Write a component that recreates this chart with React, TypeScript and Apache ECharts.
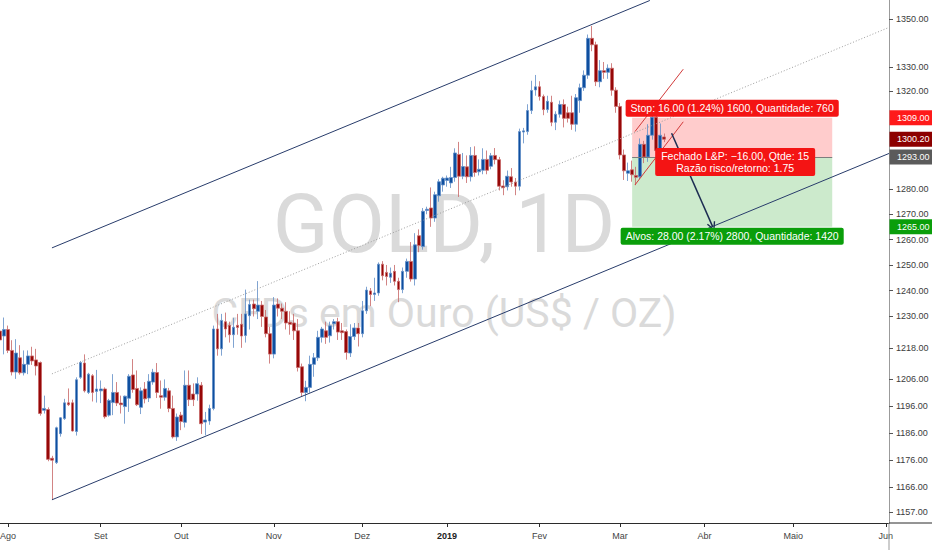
import React, { useEffect, useRef } from "react";
import * as echarts from "echarts";

// Ouro diário, de 30/07/2018 a 18/03/2019: [abertura, fechamento, mínima, máxima]
const candles: number[][] = [
  [1224.4, 1221.0, 1219.0, 1227.0], [1222.5, 1225.0, 1215.5, 1229.6], [1225.0, 1217.0, 1216.0, 1226.5],
  [1217.0, 1208.8, 1207.5, 1220.9], [1208.8, 1216.0, 1206.2, 1221.3], [1214.2, 1208.5, 1207.8, 1219.0],
  [1208.5, 1211.7, 1207.5, 1217.0], [1211.7, 1214.9, 1208.0, 1217.0], [1214.9, 1213.0, 1211.5, 1218.4],
  [1213.4, 1211.1, 1207.5, 1217.6], [1212.4, 1193.2, 1192.4, 1212.8], [1194.4, 1195.1, 1193.2, 1199.9],
  [1194.7, 1176.2, 1175.5, 1195.5], [1176.6, 1175.9, 1161.4, 1177.5], [1175.0, 1187.9, 1174.5, 1188.3],
  [1185.7, 1191.6, 1184.6, 1191.9], [1191.3, 1197.2, 1190.8, 1198.7], [1197.2, 1196.5, 1196.0, 1202.6],
  [1197.2, 1186.7, 1186.5, 1198.4], [1186.5, 1205.9, 1185.0, 1206.8], [1206.8, 1212.4, 1206.2, 1213.0],
  [1212.2, 1201.7, 1201.1, 1215.5], [1201.1, 1208.0, 1200.5, 1208.5], [1207.4, 1201.1, 1197.7, 1208.0],
  [1201.5, 1202.4, 1197.3, 1209.6], [1201.7, 1202.4, 1197.1, 1205.6], [1202.4, 1192.0, 1191.3, 1203.0],
  [1192.6, 1198.1, 1192.0, 1198.7], [1197.3, 1201.1, 1192.6, 1208.0], [1201.1, 1197.1, 1196.0, 1205.0],
  [1197.1, 1196.5, 1193.2, 1199.9], [1195.8, 1199.7, 1189.4, 1199.9], [1198.9, 1207.2, 1193.8, 1208.0],
  [1207.7, 1202.2, 1201.0, 1213.7], [1202.6, 1196.5, 1196.0, 1209.4], [1195.5, 1201.7, 1193.0, 1203.0],
  [1202.4, 1198.7, 1197.0, 1205.0], [1199.0, 1205.3, 1197.5, 1208.0], [1205.0, 1208.7, 1204.0, 1210.0],
  [1208.6, 1201.1, 1199.0, 1212.2], [1199.9, 1199.3, 1195.0, 1205.6], [1199.3, 1202.6, 1198.0, 1206.0],
  [1201.7, 1195.1, 1193.7, 1202.8], [1195.1, 1184.5, 1183.9, 1199.9], [1184.5, 1191.9, 1183.0, 1193.2],
  [1192.6, 1190.2, 1187.0, 1193.8], [1189.9, 1203.8, 1188.0, 1209.4], [1203.8, 1198.4, 1196.0, 1209.4],
  [1200.5, 1198.4, 1196.0, 1204.5], [1200.5, 1204.4, 1198.0, 1206.8], [1203.8, 1189.4, 1185.6, 1205.0],
  [1190.0, 1190.8, 1185.1, 1193.8], [1190.4, 1195.1, 1189.0, 1196.5], [1195.1, 1225.2, 1194.4, 1226.5],
  [1225.2, 1217.6, 1215.0, 1231.0], [1217.6, 1228.5, 1215.0, 1231.0], [1228.0, 1225.2, 1222.0, 1231.5],
  [1226.6, 1223.0, 1220.0, 1228.0], [1223.0, 1225.9, 1218.0, 1229.5], [1226.6, 1225.8, 1223.0, 1231.0],
  [1227.0, 1222.5, 1218.0, 1231.0], [1222.7, 1231.0, 1220.0, 1240.4], [1230.3, 1234.6, 1225.0, 1236.5],
  [1234.8, 1233.0, 1230.0, 1236.5], [1232.0, 1234.4, 1229.0, 1243.7], [1234.4, 1230.0, 1226.0, 1236.0],
  [1229.8, 1223.4, 1222.0, 1232.5], [1223.4, 1215.6, 1212.0, 1226.0], [1215.6, 1234.4, 1214.0, 1237.5],
  [1234.8, 1233.2, 1230.0, 1237.0], [1233.2, 1232.0, 1229.0, 1235.0], [1232.0, 1227.5, 1225.0, 1235.5],
  [1227.8, 1227.0, 1223.0, 1232.0], [1227.5, 1224.5, 1221.0, 1231.0], [1224.5, 1210.5, 1209.0, 1229.0],
  [1210.8, 1201.1, 1199.5, 1212.0], [1201.1, 1203.0, 1197.8, 1205.5], [1203.0, 1211.7, 1201.0, 1215.0],
  [1211.7, 1214.2, 1207.0, 1216.0], [1214.2, 1222.0, 1213.0, 1224.5], [1222.0, 1225.2, 1220.0, 1226.0],
  [1224.5, 1222.0, 1219.5, 1228.0], [1222.6, 1226.4, 1220.0, 1228.0], [1227.2, 1228.0, 1225.0, 1229.0],
  [1228.0, 1224.0, 1221.0, 1229.5], [1224.5, 1223.8, 1221.0, 1227.5], [1224.2, 1216.2, 1213.5, 1225.0],
  [1216.0, 1222.3, 1214.5, 1227.0], [1222.3, 1225.6, 1221.0, 1227.5], [1225.6, 1223.4, 1218.5, 1227.5],
  [1223.4, 1232.2, 1222.0, 1236.0], [1232.2, 1240.2, 1231.0, 1241.5], [1239.9, 1238.5, 1234.0, 1241.0],
  [1238.5, 1239.1, 1236.0, 1245.0], [1239.1, 1250.3, 1238.0, 1251.0], [1250.3, 1245.8, 1244.0, 1251.5],
  [1247.1, 1245.5, 1242.0, 1250.0], [1245.2, 1246.8, 1243.0, 1249.0], [1247.5, 1243.6, 1242.0, 1250.0],
  [1243.6, 1240.4, 1235.5, 1245.0], [1240.4, 1247.5, 1239.0, 1249.0], [1247.5, 1251.4, 1245.0, 1252.5],
  [1251.4, 1244.5, 1243.5, 1259.0], [1244.5, 1257.9, 1242.0, 1262.5], [1261.5, 1257.6, 1255.0, 1264.0],
  [1257.2, 1271.2, 1256.0, 1272.5], [1271.5, 1272.0, 1270.0, 1273.0], [1272.5, 1268.5, 1265.0, 1280.7],
  [1268.5, 1277.8, 1267.0, 1279.0], [1277.4, 1283.0, 1275.0, 1284.0], [1281.7, 1284.4, 1279.0, 1285.0],
  [1283.5, 1284.5, 1281.0, 1285.5], [1282.5, 1284.7, 1280.5, 1289.0], [1284.7, 1294.6, 1283.0, 1296.5],
  [1294.0, 1285.2, 1276.9, 1299.1], [1285.2, 1289.1, 1284.0, 1294.6], [1289.0, 1285.0, 1282.5, 1293.6],
  [1285.0, 1293.6, 1283.1, 1297.0], [1293.6, 1286.7, 1285.0, 1297.3], [1287.0, 1288.0, 1285.5, 1292.0],
  [1287.6, 1292.0, 1286.0, 1296.5], [1292.0, 1287.6, 1286.0, 1295.6], [1289.2, 1293.5, 1288.0, 1294.6],
  [1293.6, 1291.9, 1290.0, 1296.6], [1291.9, 1281.2, 1279.5, 1293.0], [1281.3, 1280.6, 1277.6, 1283.6],
  [1281.0, 1285.2, 1279.5, 1287.5], [1285.0, 1282.9, 1281.0, 1288.5], [1282.9, 1281.2, 1277.6, 1284.5],
  [1281.2, 1303.3, 1279.5, 1304.5], [1303.1, 1303.6, 1298.5, 1304.8], [1303.3, 1311.9, 1302.0, 1314.5],
  [1311.9, 1320.2, 1310.5, 1324.2], [1320.4, 1321.7, 1318.0, 1326.6], [1321.7, 1317.7, 1316.0, 1324.0],
  [1317.7, 1312.3, 1310.0, 1318.5], [1312.3, 1315.7, 1311.0, 1318.0], [1315.3, 1307.1, 1305.5, 1318.0],
  [1307.1, 1310.4, 1303.9, 1311.6], [1310.4, 1314.4, 1309.0, 1316.0], [1314.4, 1308.7, 1305.0, 1316.5],
  [1311.0, 1308.7, 1307.0, 1313.5], [1311.0, 1306.3, 1304.0, 1318.0], [1306.3, 1317.2, 1303.3, 1318.7],
  [1316.0, 1321.3, 1311.0, 1323.0], [1321.3, 1326.5, 1320.0, 1328.5], [1326.5, 1341.9, 1325.0, 1343.5],
  [1341.9, 1339.2, 1336.5, 1347.1], [1339.2, 1323.8, 1322.0, 1340.5], [1323.8, 1328.4, 1321.5, 1332.8],
  [1328.4, 1327.7, 1325.0, 1332.0], [1327.7, 1329.4, 1325.0, 1331.0], [1329.4, 1320.3, 1318.0, 1331.5],
  [1320.3, 1313.6, 1311.0, 1321.5], [1313.6, 1293.8, 1292.0, 1315.0], [1293.8, 1287.4, 1283.7, 1296.0],
  [1286.4, 1287.4, 1283.3, 1290.7], [1287.8, 1285.8, 1283.0, 1291.5], [1285.5, 1284.8, 1281.6, 1289.0],
  [1285.0, 1298.1, 1284.0, 1300.5], [1298.1, 1293.0, 1290.5, 1299.5], [1293.0, 1301.8, 1291.0, 1306.3],
  [1301.8, 1309.2, 1300.0, 1311.5], [1309.2, 1295.6, 1294.0, 1310.5], [1295.6, 1301.8, 1293.5, 1306.6],
  [1301.1, 1300.2, 1299.0, 1302.5],
];

// dias úteis do eixo, a partir de 30/07/2018 (com espaço livre até junho)
const SLOT_COUNT = 221;
const X_MAX = 220.8;
const Y_MIN = 1153.0;
const Y_MAX = 1358.1;

const monthNames = ["Jan", "Fev", "Mar", "Abr", "Maio", "Jun", "Jul", "Ago", "Set", "Out", "Nov", "Dez"];
const priceTicks = [1157, 1166, 1176, 1186, 1196, 1206, 1218, 1230, 1240, 1250, 1260, 1270, 1280, 1320, 1330, 1350];
const priceMarks = [1309, 1300.2, 1293, 1265];

// desenhos: [índice do dia, preço]
const upperChannel = [[12.9, 1256.7], [161.4, 1357.9]];
const lowerChannel = [[12.9, 1161.4], [220.8, 1294.4]];
const midChannel = [[12.9, 1208.1], [220.8, 1346.5]];
const redUpper = [[157.7, 1303.3], [169.7, 1329.0]];
const redLower = [[157.7, 1281.7], [169.7, 1307.3]];
const arrowLine = [[166.8, 1302.6], [177.0, 1265.1]];
const position = { from: 157, to: 206.7, entry: 1293, stop: 1309, target: 1265 };

const stopText = "Stop: 16.00 (1.24%) 1600, Quantidade: 760";
const closedText = "Fechado L&P: \u221216.00, Qtde: 15\nRazão risco/retorno: 1.75";
const targetText = "Alvos: 28.00 (2.17%) 2800, Quantidade: 1420";

const FONT = "'Liberation Sans', Arial, sans-serif";
const markColors: Record<string, string> = {
  "1309": "#ff1a1a",
  "1300.2": "#8c0000",
  "1293": "#5b5b5b",
  "1265": "#0a9e0a",
};

function buildSlots() {
  const out: Date[] = [];
  const d = new Date(Date.UTC(2018, 6, 30));
  while (out.length < SLOT_COUNT) {
    const wd = d.getUTCDay();
    if (wd !== 0 && wd !== 6) out.push(new Date(d.getTime()));
    d.setUTCDate(d.getUTCDate() + 1);
  }
  return out;
}

const ln = Math.log;
const seg = (pts: number[][], lineStyle: any, endSymbol: string = "none") => [
  { coord: [pts[0][0], ln(pts[0][1])], symbol: "none", lineStyle: { type: "solid", ...lineStyle } },
  { coord: [pts[1][0], ln(pts[1][1])], symbol: endSymbol },
];

const App = () => {
  const chartRef = useRef<HTMLDivElement>(null);

  useEffect(() => {
    document.body.style.margin = "0";
    const dom = chartRef.current;
    if (!dom) return;
    const chart = echarts.init(dom, null, { renderer: "svg" });

    const slots = buildSlots();
    const monthStarts: number[] = [];
    const monthLabel: Record<number, string> = {};
    slots.forEach((d, i) => {
      if (i > 0 && d.getUTCMonth() !== slots[i - 1].getUTCMonth()) {
        monthStarts.push(i);
        const m = d.getUTCMonth();
        monthLabel[i] = m === 0 ? "{y|" + d.getUTCFullYear() + "}" : monthNames[m];
      }
    });

    const navy = { color: "#283c6b", width: 1 };
    const chevron = "path://M5,0L10,10L8.6,10.7L5,3.3L1.4,10.7L0,10Z";

    const option: any = {
      animation: false,
      backgroundColor: "#ffffff",
      grid: { left: 0, right: 43, top: 0, bottom: 27, containLabel: false, outerBoundsMode: "none" },
      xAxis: {
        type: "value",
        min: 0,
        max: X_MAX,
        axisLine: { onZero: false, lineStyle: { color: "#2b2b2b", width: 1 } },
        axisTick: { show: true, customValues: monthStarts, length: 4, lineStyle: { color: "#2b2b2b" } },
        axisLabel: {
          customValues: monthStarts,
          formatter: (v: number) => monthLabel[Math.round(v)] || "",
          color: "#444",
          fontSize: 9,
          fontFamily: FONT,
          margin: 8,
          rich: { y: { fontWeight: "bold", fontSize: 9, color: "#222", fontFamily: FONT } },
        },
        splitLine: { show: false },
      },
      yAxis: {
        type: "value",
        position: "right",
        min: ln(Y_MIN),
        max: ln(Y_MAX),
        axisLine: { show: true, onZero: false, lineStyle: { color: "#9b9b9b", width: 1 } },
        axisTick: { show: true, customValues: priceTicks.map(ln), length: 4, lineStyle: { color: "#555" } },
        axisLabel: {
          customValues: priceTicks.map(ln),
          formatter: (v: number) => Math.exp(v).toFixed(2),
          color: "#3b3b3b",
          fontSize: 9,
          fontFamily: FONT,
          margin: 7,
        },
        splitLine: { show: false },
      },
      series: [
        {
          type: "candlestick",
          data: candles.map((c, i) => [i, ln(c[0]), ln(c[1]), ln(c[2]), ln(c[3])]),
          encode: { x: 0, y: [1, 2, 3, 4] },
          barWidth: 3.2,
          itemStyle: {
            color: "#0f4f9f",
            color0: "#960808",
            borderColor: "#5f8dc6",
            borderColor0: "#c66464",
            borderWidth: 0.8,
          },
          markArea: {
            silent: true,
            data: [
              [
                { coord: [position.from, ln(position.stop)], itemStyle: { color: "rgba(255,0,0,0.2)" } },
                { coord: [position.to, ln(position.entry)] },
              ],
              [
                { coord: [position.from, ln(position.entry)], itemStyle: { color: "rgba(0,150,0,0.2)" } },
                { coord: [position.to, ln(position.target)] },
              ],
            ],
          },
          markLine: {
            silent: true,
            symbol: "none",
            symbolSize: 9,
            label: { show: false },
            emphasis: { disabled: true },
            lineStyle: { type: "solid" },
            data: [
              seg(upperChannel, navy),
              seg(lowerChannel, navy),
              seg(midChannel, { color: "#9e9e9e", width: 1, type: [1, 2] }),
              seg(redUpper, { color: "#d23a3a", width: 1 }),
              seg(redLower, { color: "#d23a3a", width: 1 }),
              seg(
                [[position.from, position.entry], [position.to, position.entry]],
                { color: "#7d7d7d", width: 1 }
              ),
              seg(arrowLine, { color: "#1d2d52", width: 1.5 }, chevron),
            ],
          },
        },
      ],
    };

    chart.setOption(option);

    const toPx = (i: number, p: number) =>
      chart.convertToPixel({ gridIndex: 0 }, [i, ln(p)]) as number[];
    const mid = (position.from + position.to) / 2;
    const [cx, stopY] = toPx(mid, position.stop);
    const entryY = toPx(mid, position.entry)[1];
    const targetY = toPx(mid, position.target)[1];
    const [axisX, axisBottom] = toPx(X_MAX, Y_MIN);
    const W = dom.clientWidth;
    const H = dom.clientHeight;

    const labelStyle = {
      fill: "#ffffff",
      font: "10.5px " + FONT,
      align: "center",
      padding: [3, 5, 3, 5],
      borderRadius: 2,
    };

    const graphic: any[] = [
      {
        type: "text",
        z: 0,
        silent: true,
        style: {
          text: "GOLD, 1D",
          x: 444,
          y: 224,
          align: "center",
          verticalAlign: "middle",
          font: "82px Roboto, 'Liberation Sans', sans-serif",
          fill: "#dadada",
        },
      },
      {
        type: "text",
        z: 0,
        silent: true,
        style: {
          text: "CFDs em Ouro (US$ / OZ)",
          x: 444,
          y: 313,
          align: "center",
          verticalAlign: "middle",
          font: "41px Roboto, 'Liberation Sans', sans-serif",
          fill: "#dadada",
        },
      },
      {
        type: "line",
        z: 50,
        silent: true,
        shape: { x1: axisX, y1: axisBottom, x2: axisX, y2: H },
        style: { stroke: "#9b9b9b", lineWidth: 1 },
      },
      {
        type: "line",
        z: 50,
        silent: true,
        shape: { x1: axisX, y1: axisBottom, x2: W, y2: axisBottom },
        style: { stroke: "#2b2b2b", lineWidth: 1 },
      },
      {
        type: "text",
        z: 100,
        silent: true,
        style: { ...labelStyle, text: stopText, x: cx, y: stopY - 1, verticalAlign: "bottom", backgroundColor: "#f41414" },
      },
      {
        type: "text",
        z: 100,
        silent: true,
        style: {
          ...labelStyle,
          text: closedText,
          x: cx + 3,
          y: entryY + 5,
          verticalAlign: "middle",
          lineHeight: 12,
          padding: [2, 6, 2, 6],
          backgroundColor: "#f41414",
        },
      },
      {
        type: "text",
        z: 100,
        silent: true,
        style: { ...labelStyle, text: targetText, x: cx, y: targetY + 1, verticalAlign: "top", backgroundColor: "#0a9e0a" },
      },
    ];

    priceMarks.forEach((p) => {
      const y = toPx(X_MAX, p)[1];
      const color = markColors[String(p)];
      graphic.push({
        type: "rect",
        z: 100,
        silent: true,
        shape: { x: axisX + 0.5, y: y - 7.5, width: W - axisX, height: 15 },
        style: { fill: color },
      });
      graphic.push({
        type: "text",
        z: 101,
        silent: true,
        style: {
          text: p.toFixed(2),
          x: axisX + 8,
          y: y,
          verticalAlign: "middle",
          fill: "#ffffff",
          font: "9px " + FONT,
        },
      });
    });

    chart.setOption({ graphic });

    return () => {
      chart.dispose();
    };
  }, []);

  return <div ref={chartRef} style={{ width: "932px", height: "550px" }}></div>;
};

export default App;
